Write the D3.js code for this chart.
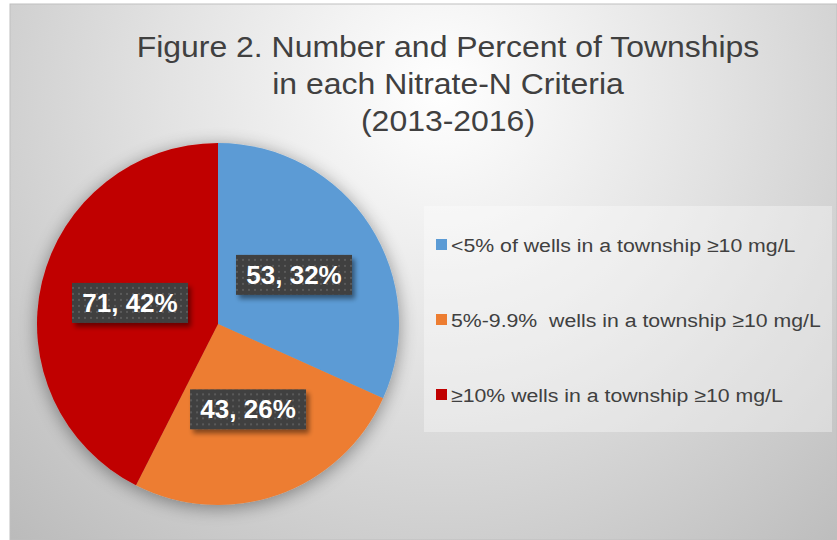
<html>
<meta charset="utf-8" />
<head>
<title>Figure 2 Nitrate-N</title>
<script src="https://cdn.jsdelivr.net/npm/d3@7"></script>
<style>
	body { margin: 0; background: #fff; }
	svg { display: block; }
</style>
<script>
// data
const categories = ['<5% of wells in a township \u226510 mg/L', '5%-9.9%  wells in a township \u226510 mg/L', '\u226510% wells in a township \u226510 mg/L'];
const counts = [53, 43, 71];
const percents = ['32%', '26%', '42%'];
const colors = ['#5b9bd5', '#ed7d31', '#c00000'];
const titleLines = ['Figure 2. Number and Percent of Townships', 'in each Nitrate-N Criteria', '(2013-2016)'];

window.onload = function() {
	let svg = d3.select('svg');
	let defs = svg.append('defs');

	// background gradient
	let bg = defs.append('radialGradient').attr('id', 'bgGrad')
		.attr('gradientUnits', 'userSpaceOnUse')
		.attr('cx', 440).attr('cy', 90).attr('r', 620);
	bg.append('stop').attr('offset', '0%').attr('stop-color', '#ffffff');
	bg.append('stop').attr('offset', '45%').attr('stop-color', '#e2e2e2');
	bg.append('stop').attr('offset', '100%').attr('stop-color', '#bbbbbb');

	let pieShadow = defs.append('filter').attr('id', 'pieShadow')
		.attr('x', '-20%').attr('y', '-20%').attr('width', '140%').attr('height', '140%');
	pieShadow.append('feGaussianBlur').attr('in', 'SourceAlpha').attr('stdDeviation', 9);
	pieShadow.append('feOffset').attr('dx', 0).attr('dy', 3).attr('result', 'b');
	pieShadow.append('feComponentTransfer').append('feFuncA').attr('type', 'linear').attr('slope', 0.4);
	let m1 = pieShadow.append('feMerge');
	m1.append('feMergeNode');
	m1.append('feMergeNode').attr('in', 'SourceGraphic');

	let boxShadow = defs.append('filter').attr('id', 'boxShadow')
		.attr('x', '-20%').attr('y', '-30%').attr('width', '150%').attr('height', '170%');
	boxShadow.append('feGaussianBlur').attr('in', 'SourceAlpha').attr('stdDeviation', 2.5);
	boxShadow.append('feOffset').attr('dx', 3).attr('dy', 4);
	boxShadow.append('feComponentTransfer').append('feFuncA').attr('type', 'linear').attr('slope', 0.45);
	let m2 = boxShadow.append('feMerge');
	m2.append('feMergeNode');
	m2.append('feMergeNode').attr('in', 'SourceGraphic');

	let dots = defs.append('pattern').attr('id', 'dots')
		.attr('patternUnits', 'userSpaceOnUse').attr('width', 6).attr('height', 6);
	dots.append('rect').attr('width', 6).attr('height', 6).attr('fill', '#404040');
	dots.append('rect').attr('x', 2).attr('y', 2).attr('width', 2).attr('height', 2).attr('fill', '#5a5a5a');

	// chart area
	svg.append('rect').attr('x', 10).attr('y', 4).attr('width', 827).attr('height', 536)
		.attr('fill', 'url(#bgGrad)').attr('stroke', '#bfbfbf').attr('stroke-width', 1);

	// title (font in the picture is wider than Liberation Sans, so stretch a bit)
	svg.append('g')
		.attr('transform', 'translate(448,0) scale(1.065,1)')
		.append('text')
		.attr('x', 0).attr('y', 57)
		.attr('text-anchor', 'middle')
		.style('font-family', 'Liberation Sans, Arial, sans-serif')
		.style('font-size', '30px')
		.attr('fill', '#404040')
		.selectAll('tspan').data(titleLines).enter().append('tspan')
		.attr('x', 0)
		.attr('dy', (d, i) => i == 0 ? 0 : 37)
		.text(d => d);

	// pie
	let cx = 218, cy = 324, r = 181;
	let pie = d3.pie().sort(null).value(d => d);
	let arcs = pie(counts);
	let arc = d3.arc().innerRadius(0).outerRadius(r);

	let pieG = svg.append('g').attr('transform', 'translate(' + cx + ',' + cy + ')');
	pieG.append('g').attr('filter', 'url(#pieShadow)')
		.selectAll('path').data(arcs).enter().append('path')
		.attr('d', arc)
		.attr('fill', (d, i) => colors[i]);

	// data labels
	let labelG = pieG.selectAll('g.lbl').data(arcs).enter().append('g')
		.attr('class', 'lbl')
		.attr('transform', d => 'translate(' + arc.centroid(d) + ')');
	labelG.append('rect')
		.attr('x', -58).attr('y', -20).attr('width', 116).attr('height', 40)
		.attr('fill', 'url(#dots)')
		.attr('filter', 'url(#boxShadow)');
	labelG.append('text')
		.attr('text-anchor', 'middle')
		.attr('dy', 9)
		.style('font-family', 'Liberation Sans, Arial, sans-serif')
		.style('font-size', '26px')
		.style('font-weight', 'bold')
		.attr('fill', '#ffffff')
		.text((d, i) => counts[i] + ', ' + percents[i]);

	// legend
	svg.append('rect').attr('x', 424).attr('y', 206).attr('width', 408).attr('height', 226)
		.attr('fill', '#ffffff').attr('opacity', 0.35);
	let legendY = d3.scalePoint().domain(d3.range(categories.length)).range([244.5, 394.5]);
	let leg = svg.selectAll('g.leg').data(categories).enter().append('g')
		.attr('class', 'leg')
		.attr('transform', (d, i) => 'translate(436,' + legendY(i) + ')');
	leg.append('rect').attr('x', 0).attr('y', -5.5).attr('width', 11).attr('height', 11)
		.attr('fill', (d, i) => colors[i]);
	leg.append('g').attr('transform', 'translate(15,0) scale(1.12,1)')
		.append('text')
		.attr('dy', 7)
		.style('font-family', 'Liberation Sans, Arial, sans-serif')
		.style('font-size', '19px')
		.style('white-space', 'pre')
		.attr('fill', '#404040')
		.text(d => d);
}
</script>
</head>
<body>
<svg width="837" height="540"></svg>
</body>
</html>
